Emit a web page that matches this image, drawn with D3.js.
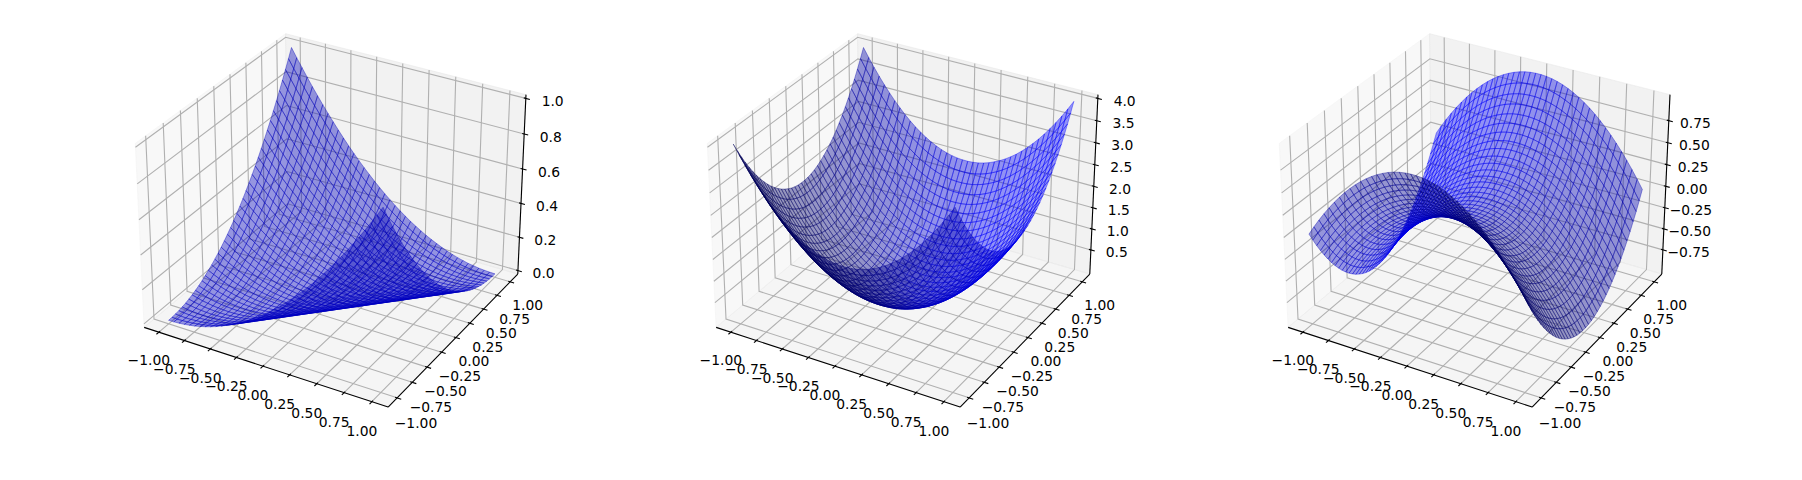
<!DOCTYPE html>
<html><head><meta charset="utf-8">
<style>html,body{margin:0;padding:0;background:#fff}svg{display:block}text{font-family:"DejaVu Sans";font-size:13.89px;fill:#000}</style>
<script src="https://cdn.jsdelivr.net/npm/d3@7"></script></head><body>
<script>
const gridValues=[-1,-0.9487,-0.8974,-0.8462,-0.7949,-0.7436,-0.6923,-0.641,-0.5897,-0.5385,-0.4872,-0.4359,-0.3846,-0.3333,-0.2821,-0.2308,-0.1795,-0.1282,-0.0769,-0.0256,0.0256,0.0769,0.1282,0.1795,0.2308,0.2821,0.3333,0.3846,0.4359,0.4872,0.5385,0.5897,0.641,0.6923,0.7436,0.7949,0.8462,0.8974,0.9487,1];
const surfaceA=[
[0,1,3,6,11,16,24,32,42,53,66,80,95,111,129,148,168,190,213,237,263,290,318,348,379,411,444,479,515,553,592,632,673,716,760,805,852,900,949,1000],
[1,0,1,3,6,11,16,24,32,42,53,66,80,95,111,129,148,168,190,213,237,263,290,318,348,379,411,444,479,515,553,592,632,673,716,760,805,852,900,949],
[3,1,0,1,3,6,11,16,24,32,42,53,66,80,95,111,129,148,168,190,213,237,263,290,318,348,379,411,444,479,515,553,592,632,673,716,760,805,852,900],
[6,3,1,0,1,3,6,11,16,24,32,42,53,66,80,95,111,129,148,168,190,213,237,263,290,318,348,379,411,444,479,515,553,592,632,673,716,760,805,852],
[11,6,3,1,0,1,3,6,11,16,24,32,42,53,66,80,95,111,129,148,168,190,213,237,263,290,318,348,379,411,444,479,515,553,592,632,673,716,760,805],
[16,11,6,3,1,0,1,3,6,11,16,24,32,42,53,66,80,95,111,129,148,168,190,213,237,263,290,318,348,379,411,444,479,515,553,592,632,673,716,760],
[24,16,11,6,3,1,0,1,3,6,11,16,24,32,42,53,66,80,95,111,129,148,168,190,213,237,263,290,318,348,379,411,444,479,515,553,592,632,673,716],
[32,24,16,11,6,3,1,0,1,3,6,11,16,24,32,42,53,66,80,95,111,129,148,168,190,213,237,263,290,318,348,379,411,444,479,515,553,592,632,673],
[42,32,24,16,11,6,3,1,0,1,3,6,11,16,24,32,42,53,66,80,95,111,129,148,168,190,213,237,263,290,318,348,379,411,444,479,515,553,592,632],
[53,42,32,24,16,11,6,3,1,0,1,3,6,11,16,24,32,42,53,66,80,95,111,129,148,168,190,213,237,263,290,318,348,379,411,444,479,515,553,592],
[66,53,42,32,24,16,11,6,3,1,0,1,3,6,11,16,24,32,42,53,66,80,95,111,129,148,168,190,213,237,263,290,318,348,379,411,444,479,515,553],
[80,66,53,42,32,24,16,11,6,3,1,0,1,3,6,11,16,24,32,42,53,66,80,95,111,129,148,168,190,213,237,263,290,318,348,379,411,444,479,515],
[95,80,66,53,42,32,24,16,11,6,3,1,0,1,3,6,11,16,24,32,42,53,66,80,95,111,129,148,168,190,213,237,263,290,318,348,379,411,444,479],
[111,95,80,66,53,42,32,24,16,11,6,3,1,0,1,3,6,11,16,24,32,42,53,66,80,95,111,129,148,168,190,213,237,263,290,318,348,379,411,444],
[129,111,95,80,66,53,42,32,24,16,11,6,3,1,0,1,3,6,11,16,24,32,42,53,66,80,95,111,129,148,168,190,213,237,263,290,318,348,379,411],
[148,129,111,95,80,66,53,42,32,24,16,11,6,3,1,0,1,3,6,11,16,24,32,42,53,66,80,95,111,129,148,168,190,213,237,263,290,318,348,379],
[168,148,129,111,95,80,66,53,42,32,24,16,11,6,3,1,0,1,3,6,11,16,24,32,42,53,66,80,95,111,129,148,168,190,213,237,263,290,318,348],
[190,168,148,129,111,95,80,66,53,42,32,24,16,11,6,3,1,0,1,3,6,11,16,24,32,42,53,66,80,95,111,129,148,168,190,213,237,263,290,318],
[213,190,168,148,129,111,95,80,66,53,42,32,24,16,11,6,3,1,0,1,3,6,11,16,24,32,42,53,66,80,95,111,129,148,168,190,213,237,263,290],
[237,213,190,168,148,129,111,95,80,66,53,42,32,24,16,11,6,3,1,0,1,3,6,11,16,24,32,42,53,66,80,95,111,129,148,168,190,213,237,263],
[263,237,213,190,168,148,129,111,95,80,66,53,42,32,24,16,11,6,3,1,0,1,3,6,11,16,24,32,42,53,66,80,95,111,129,148,168,190,213,237],
[290,263,237,213,190,168,148,129,111,95,80,66,53,42,32,24,16,11,6,3,1,0,1,3,6,11,16,24,32,42,53,66,80,95,111,129,148,168,190,213],
[318,290,263,237,213,190,168,148,129,111,95,80,66,53,42,32,24,16,11,6,3,1,0,1,3,6,11,16,24,32,42,53,66,80,95,111,129,148,168,190],
[348,318,290,263,237,213,190,168,148,129,111,95,80,66,53,42,32,24,16,11,6,3,1,0,1,3,6,11,16,24,32,42,53,66,80,95,111,129,148,168],
[379,348,318,290,263,237,213,190,168,148,129,111,95,80,66,53,42,32,24,16,11,6,3,1,0,1,3,6,11,16,24,32,42,53,66,80,95,111,129,148],
[411,379,348,318,290,263,237,213,190,168,148,129,111,95,80,66,53,42,32,24,16,11,6,3,1,0,1,3,6,11,16,24,32,42,53,66,80,95,111,129],
[444,411,379,348,318,290,263,237,213,190,168,148,129,111,95,80,66,53,42,32,24,16,11,6,3,1,0,1,3,6,11,16,24,32,42,53,66,80,95,111],
[479,444,411,379,348,318,290,263,237,213,190,168,148,129,111,95,80,66,53,42,32,24,16,11,6,3,1,0,1,3,6,11,16,24,32,42,53,66,80,95],
[515,479,444,411,379,348,318,290,263,237,213,190,168,148,129,111,95,80,66,53,42,32,24,16,11,6,3,1,0,1,3,6,11,16,24,32,42,53,66,80],
[553,515,479,444,411,379,348,318,290,263,237,213,190,168,148,129,111,95,80,66,53,42,32,24,16,11,6,3,1,0,1,3,6,11,16,24,32,42,53,66],
[592,553,515,479,444,411,379,348,318,290,263,237,213,190,168,148,129,111,95,80,66,53,42,32,24,16,11,6,3,1,0,1,3,6,11,16,24,32,42,53],
[632,592,553,515,479,444,411,379,348,318,290,263,237,213,190,168,148,129,111,95,80,66,53,42,32,24,16,11,6,3,1,0,1,3,6,11,16,24,32,42],
[673,632,592,553,515,479,444,411,379,348,318,290,263,237,213,190,168,148,129,111,95,80,66,53,42,32,24,16,11,6,3,1,0,1,3,6,11,16,24,32],
[716,673,632,592,553,515,479,444,411,379,348,318,290,263,237,213,190,168,148,129,111,95,80,66,53,42,32,24,16,11,6,3,1,0,1,3,6,11,16,24],
[760,716,673,632,592,553,515,479,444,411,379,348,318,290,263,237,213,190,168,148,129,111,95,80,66,53,42,32,24,16,11,6,3,1,0,1,3,6,11,16],
[805,760,716,673,632,592,553,515,479,444,411,379,348,318,290,263,237,213,190,168,148,129,111,95,80,66,53,42,32,24,16,11,6,3,1,0,1,3,6,11],
[852,805,760,716,673,632,592,553,515,479,444,411,379,348,318,290,263,237,213,190,168,148,129,111,95,80,66,53,42,32,24,16,11,6,3,1,0,1,3,6],
[900,852,805,760,716,673,632,592,553,515,479,444,411,379,348,318,290,263,237,213,190,168,148,129,111,95,80,66,53,42,32,24,16,11,6,3,1,0,1,3],
[949,900,852,805,760,716,673,632,592,553,515,479,444,411,379,348,318,290,263,237,213,190,168,148,129,111,95,80,66,53,42,32,24,16,11,6,3,1,0,1],
[1000,949,900,852,805,760,716,673,632,592,553,515,479,444,411,379,348,318,290,263,237,213,190,168,148,129,111,95,80,66,53,42,32,24,16,11,6,3,1,0]];
const surfaceB=[
[4000,3800,3610,3432,3264,3106,2958,2822,2696,2580,2474,2380,2296,2222,2160,2106,2064,2032,2012,2002,2002,2012,2032,2064,2106,2160,2222,2296,2380,2474,2580,2696,2822,2958,3106,3264,3432,3610,3800,4000],
[3800,3600,3410,3232,3064,2906,2758,2622,2496,2380,2274,2180,2096,2022,1960,1906,1864,1832,1812,1802,1802,1812,1832,1864,1906,1960,2022,2096,2180,2274,2380,2496,2622,2758,2906,3064,3232,3410,3600,3800],
[3610,3410,3220,3042,2874,2716,2568,2432,2306,2190,2084,1990,1906,1832,1770,1716,1674,1642,1622,1612,1612,1622,1642,1674,1716,1770,1832,1906,1990,2084,2190,2306,2432,2568,2716,2874,3042,3220,3410,3610],
[3432,3232,3042,2864,2696,2538,2390,2254,2128,2012,1906,1812,1728,1654,1592,1538,1496,1464,1444,1434,1434,1444,1464,1496,1538,1592,1654,1728,1812,1906,2012,2128,2254,2390,2538,2696,2864,3042,3232,3432],
[3264,3064,2874,2696,2528,2370,2222,2086,1960,1844,1738,1644,1560,1486,1424,1370,1328,1296,1276,1266,1266,1276,1296,1328,1370,1424,1486,1560,1644,1738,1844,1960,2086,2222,2370,2528,2696,2874,3064,3264],
[3106,2906,2716,2538,2370,2212,2064,1928,1802,1686,1580,1486,1402,1328,1266,1212,1170,1138,1118,1108,1108,1118,1138,1170,1212,1266,1328,1402,1486,1580,1686,1802,1928,2064,2212,2370,2538,2716,2906,3106],
[2958,2758,2568,2390,2222,2064,1916,1780,1654,1538,1432,1338,1254,1180,1118,1064,1022,990,970,960,960,970,990,1022,1064,1118,1180,1254,1338,1432,1538,1654,1780,1916,2064,2222,2390,2568,2758,2958],
[2822,2622,2432,2254,2086,1928,1780,1644,1518,1402,1296,1202,1118,1044,982,928,886,854,834,824,824,834,854,886,928,982,1044,1118,1202,1296,1402,1518,1644,1780,1928,2086,2254,2432,2622,2822],
[2696,2496,2306,2128,1960,1802,1654,1518,1392,1276,1170,1076,992,918,856,802,760,728,708,698,698,708,728,760,802,856,918,992,1076,1170,1276,1392,1518,1654,1802,1960,2128,2306,2496,2696],
[2580,2380,2190,2012,1844,1686,1538,1402,1276,1160,1054,960,876,802,740,686,644,612,592,582,582,592,612,644,686,740,802,876,960,1054,1160,1276,1402,1538,1686,1844,2012,2190,2380,2580],
[2474,2274,2084,1906,1738,1580,1432,1296,1170,1054,948,854,770,696,634,580,538,506,486,476,476,486,506,538,580,634,696,770,854,948,1054,1170,1296,1432,1580,1738,1906,2084,2274,2474],
[2380,2180,1990,1812,1644,1486,1338,1202,1076,960,854,760,676,602,540,486,444,412,392,382,382,392,412,444,486,540,602,676,760,854,960,1076,1202,1338,1486,1644,1812,1990,2180,2380],
[2296,2096,1906,1728,1560,1402,1254,1118,992,876,770,676,592,518,456,402,360,328,308,298,298,308,328,360,402,456,518,592,676,770,876,992,1118,1254,1402,1560,1728,1906,2096,2296],
[2222,2022,1832,1654,1486,1328,1180,1044,918,802,696,602,518,444,382,328,286,254,234,224,224,234,254,286,328,382,444,518,602,696,802,918,1044,1180,1328,1486,1654,1832,2022,2222],
[2160,1960,1770,1592,1424,1266,1118,982,856,740,634,540,456,382,320,266,224,192,172,162,162,172,192,224,266,320,382,456,540,634,740,856,982,1118,1266,1424,1592,1770,1960,2160],
[2106,1906,1716,1538,1370,1212,1064,928,802,686,580,486,402,328,266,212,170,138,118,108,108,118,138,170,212,266,328,402,486,580,686,802,928,1064,1212,1370,1538,1716,1906,2106],
[2064,1864,1674,1496,1328,1170,1022,886,760,644,538,444,360,286,224,170,128,96,76,66,66,76,96,128,170,224,286,360,444,538,644,760,886,1022,1170,1328,1496,1674,1864,2064],
[2032,1832,1642,1464,1296,1138,990,854,728,612,506,412,328,254,192,138,96,64,44,34,34,44,64,96,138,192,254,328,412,506,612,728,854,990,1138,1296,1464,1642,1832,2032],
[2012,1812,1622,1444,1276,1118,970,834,708,592,486,392,308,234,172,118,76,44,24,14,14,24,44,76,118,172,234,308,392,486,592,708,834,970,1118,1276,1444,1622,1812,2012],
[2002,1802,1612,1434,1266,1108,960,824,698,582,476,382,298,224,162,108,66,34,14,4,4,14,34,66,108,162,224,298,382,476,582,698,824,960,1108,1266,1434,1612,1802,2002],
[2002,1802,1612,1434,1266,1108,960,824,698,582,476,382,298,224,162,108,66,34,14,4,4,14,34,66,108,162,224,298,382,476,582,698,824,960,1108,1266,1434,1612,1802,2002],
[2012,1812,1622,1444,1276,1118,970,834,708,592,486,392,308,234,172,118,76,44,24,14,14,24,44,76,118,172,234,308,392,486,592,708,834,970,1118,1276,1444,1622,1812,2012],
[2032,1832,1642,1464,1296,1138,990,854,728,612,506,412,328,254,192,138,96,64,44,34,34,44,64,96,138,192,254,328,412,506,612,728,854,990,1138,1296,1464,1642,1832,2032],
[2064,1864,1674,1496,1328,1170,1022,886,760,644,538,444,360,286,224,170,128,96,76,66,66,76,96,128,170,224,286,360,444,538,644,760,886,1022,1170,1328,1496,1674,1864,2064],
[2106,1906,1716,1538,1370,1212,1064,928,802,686,580,486,402,328,266,212,170,138,118,108,108,118,138,170,212,266,328,402,486,580,686,802,928,1064,1212,1370,1538,1716,1906,2106],
[2160,1960,1770,1592,1424,1266,1118,982,856,740,634,540,456,382,320,266,224,192,172,162,162,172,192,224,266,320,382,456,540,634,740,856,982,1118,1266,1424,1592,1770,1960,2160],
[2222,2022,1832,1654,1486,1328,1180,1044,918,802,696,602,518,444,382,328,286,254,234,224,224,234,254,286,328,382,444,518,602,696,802,918,1044,1180,1328,1486,1654,1832,2022,2222],
[2296,2096,1906,1728,1560,1402,1254,1118,992,876,770,676,592,518,456,402,360,328,308,298,298,308,328,360,402,456,518,592,676,770,876,992,1118,1254,1402,1560,1728,1906,2096,2296],
[2380,2180,1990,1812,1644,1486,1338,1202,1076,960,854,760,676,602,540,486,444,412,392,382,382,392,412,444,486,540,602,676,760,854,960,1076,1202,1338,1486,1644,1812,1990,2180,2380],
[2474,2274,2084,1906,1738,1580,1432,1296,1170,1054,948,854,770,696,634,580,538,506,486,476,476,486,506,538,580,634,696,770,854,948,1054,1170,1296,1432,1580,1738,1906,2084,2274,2474],
[2580,2380,2190,2012,1844,1686,1538,1402,1276,1160,1054,960,876,802,740,686,644,612,592,582,582,592,612,644,686,740,802,876,960,1054,1160,1276,1402,1538,1686,1844,2012,2190,2380,2580],
[2696,2496,2306,2128,1960,1802,1654,1518,1392,1276,1170,1076,992,918,856,802,760,728,708,698,698,708,728,760,802,856,918,992,1076,1170,1276,1392,1518,1654,1802,1960,2128,2306,2496,2696],
[2822,2622,2432,2254,2086,1928,1780,1644,1518,1402,1296,1202,1118,1044,982,928,886,854,834,824,824,834,854,886,928,982,1044,1118,1202,1296,1402,1518,1644,1780,1928,2086,2254,2432,2622,2822],
[2958,2758,2568,2390,2222,2064,1916,1780,1654,1538,1432,1338,1254,1180,1118,1064,1022,990,970,960,960,970,990,1022,1064,1118,1180,1254,1338,1432,1538,1654,1780,1916,2064,2222,2390,2568,2758,2958],
[3106,2906,2716,2538,2370,2212,2064,1928,1802,1686,1580,1486,1402,1328,1266,1212,1170,1138,1118,1108,1108,1118,1138,1170,1212,1266,1328,1402,1486,1580,1686,1802,1928,2064,2212,2370,2538,2716,2906,3106],
[3264,3064,2874,2696,2528,2370,2222,2086,1960,1844,1738,1644,1560,1486,1424,1370,1328,1296,1276,1266,1266,1276,1296,1328,1370,1424,1486,1560,1644,1738,1844,1960,2086,2222,2370,2528,2696,2874,3064,3264],
[3432,3232,3042,2864,2696,2538,2390,2254,2128,2012,1906,1812,1728,1654,1592,1538,1496,1464,1444,1434,1434,1444,1464,1496,1538,1592,1654,1728,1812,1906,2012,2128,2254,2390,2538,2696,2864,3042,3232,3432],
[3610,3410,3220,3042,2874,2716,2568,2432,2306,2190,2084,1990,1906,1832,1770,1716,1674,1642,1622,1612,1612,1622,1642,1674,1716,1770,1832,1906,1990,2084,2190,2306,2432,2568,2716,2874,3042,3220,3410,3610],
[3800,3600,3410,3232,3064,2906,2758,2622,2496,2380,2274,2180,2096,2022,1960,1906,1864,1832,1812,1802,1802,1812,1832,1864,1906,1960,2022,2096,2180,2274,2380,2496,2622,2758,2906,3064,3232,3410,3600,3800],
[4000,3800,3610,3432,3264,3106,2958,2822,2696,2580,2474,2380,2296,2222,2160,2106,2064,2032,2012,2002,2002,2012,2032,2064,2106,2160,2222,2296,2380,2474,2580,2696,2822,2958,3106,3264,3432,3610,3800,4000]];
const surfaceC=[
[0,100,195,284,368,447,521,589,652,710,763,810,852,889,920,947,968,984,994,999,999,994,984,968,947,920,889,852,810,763,710,652,589,521,447,368,284,195,100,0],
[-100,0,95,184,268,347,421,489,552,610,663,710,752,789,820,847,868,884,894,899,899,894,884,868,847,820,789,752,710,663,610,552,489,421,347,268,184,95,0,-100],
[-195,-95,0,89,173,252,326,394,457,515,568,615,657,694,725,752,773,789,799,804,804,799,789,773,752,725,694,657,615,568,515,457,394,326,252,173,89,0,-95,-195],
[-284,-184,-89,0,84,163,237,305,368,426,479,526,568,605,636,663,684,700,710,715,715,710,700,684,663,636,605,568,526,479,426,368,305,237,163,84,0,-89,-184,-284],
[-368,-268,-173,-84,0,79,153,221,284,342,395,442,484,521,552,579,600,616,626,631,631,626,616,600,579,552,521,484,442,395,342,284,221,153,79,0,-84,-173,-268,-368],
[-447,-347,-252,-163,-79,0,74,142,205,263,316,363,405,442,473,500,521,537,547,552,552,547,537,521,500,473,442,405,363,316,263,205,142,74,0,-79,-163,-252,-347,-447],
[-521,-421,-326,-237,-153,-74,0,68,131,189,242,289,331,368,399,426,447,463,473,478,478,473,463,447,426,399,368,331,289,242,189,131,68,0,-74,-153,-237,-326,-421,-521],
[-589,-489,-394,-305,-221,-142,-68,0,63,121,174,221,263,300,331,358,379,395,405,410,410,405,395,379,358,331,300,263,221,174,121,63,0,-68,-142,-221,-305,-394,-489,-589],
[-652,-552,-457,-368,-284,-205,-131,-63,0,58,111,158,200,237,268,295,316,332,342,347,347,342,332,316,295,268,237,200,158,111,58,0,-63,-131,-205,-284,-368,-457,-552,-652],
[-710,-610,-515,-426,-342,-263,-189,-121,-58,0,53,100,142,179,210,237,258,274,284,289,289,284,274,258,237,210,179,142,100,53,0,-58,-121,-189,-263,-342,-426,-515,-610,-710],
[-763,-663,-568,-479,-395,-316,-242,-174,-111,-53,0,47,89,126,157,184,205,221,231,236,236,231,221,205,184,157,126,89,47,0,-53,-111,-174,-242,-316,-395,-479,-568,-663,-763],
[-810,-710,-615,-526,-442,-363,-289,-221,-158,-100,-47,0,42,79,110,137,158,174,184,189,189,184,174,158,137,110,79,42,0,-47,-100,-158,-221,-289,-363,-442,-526,-615,-710,-810],
[-852,-752,-657,-568,-484,-405,-331,-263,-200,-142,-89,-42,0,37,68,95,116,132,142,147,147,142,132,116,95,68,37,0,-42,-89,-142,-200,-263,-331,-405,-484,-568,-657,-752,-852],
[-889,-789,-694,-605,-521,-442,-368,-300,-237,-179,-126,-79,-37,0,31,58,79,95,105,110,110,105,95,79,58,31,0,-37,-79,-126,-179,-237,-300,-368,-442,-521,-605,-694,-789,-889],
[-920,-820,-725,-636,-552,-473,-399,-331,-268,-210,-157,-110,-68,-31,0,27,48,64,74,79,79,74,64,48,27,0,-31,-68,-110,-157,-210,-268,-331,-399,-473,-552,-636,-725,-820,-920],
[-947,-847,-752,-663,-579,-500,-426,-358,-295,-237,-184,-137,-95,-58,-27,0,21,37,47,52,52,47,37,21,0,-27,-58,-95,-137,-184,-237,-295,-358,-426,-500,-579,-663,-752,-847,-947],
[-968,-868,-773,-684,-600,-521,-447,-379,-316,-258,-205,-158,-116,-79,-48,-21,0,16,26,31,31,26,16,0,-21,-48,-79,-116,-158,-205,-258,-316,-379,-447,-521,-600,-684,-773,-868,-968],
[-984,-884,-789,-700,-616,-537,-463,-395,-332,-274,-221,-174,-132,-95,-64,-37,-16,0,10,15,15,10,0,-16,-37,-64,-95,-132,-174,-221,-274,-332,-395,-463,-537,-616,-700,-789,-884,-984],
[-994,-894,-799,-710,-626,-547,-473,-405,-342,-284,-231,-184,-142,-105,-74,-47,-26,-10,0,5,5,0,-10,-26,-47,-74,-105,-142,-184,-231,-284,-342,-405,-473,-547,-626,-710,-799,-894,-994],
[-999,-899,-804,-715,-631,-552,-478,-410,-347,-289,-236,-189,-147,-110,-79,-52,-31,-15,-5,0,0,-5,-15,-31,-52,-79,-110,-147,-189,-236,-289,-347,-410,-478,-552,-631,-715,-804,-899,-999],
[-999,-899,-804,-715,-631,-552,-478,-410,-347,-289,-236,-189,-147,-110,-79,-52,-31,-15,-5,0,0,-5,-15,-31,-52,-79,-110,-147,-189,-236,-289,-347,-410,-478,-552,-631,-715,-804,-899,-999],
[-994,-894,-799,-710,-626,-547,-473,-405,-342,-284,-231,-184,-142,-105,-74,-47,-26,-10,0,5,5,0,-10,-26,-47,-74,-105,-142,-184,-231,-284,-342,-405,-473,-547,-626,-710,-799,-894,-994],
[-984,-884,-789,-700,-616,-537,-463,-395,-332,-274,-221,-174,-132,-95,-64,-37,-16,0,10,15,15,10,0,-16,-37,-64,-95,-132,-174,-221,-274,-332,-395,-463,-537,-616,-700,-789,-884,-984],
[-968,-868,-773,-684,-600,-521,-447,-379,-316,-258,-205,-158,-116,-79,-48,-21,0,16,26,31,31,26,16,0,-21,-48,-79,-116,-158,-205,-258,-316,-379,-447,-521,-600,-684,-773,-868,-968],
[-947,-847,-752,-663,-579,-500,-426,-358,-295,-237,-184,-137,-95,-58,-27,0,21,37,47,52,52,47,37,21,0,-27,-58,-95,-137,-184,-237,-295,-358,-426,-500,-579,-663,-752,-847,-947],
[-920,-820,-725,-636,-552,-473,-399,-331,-268,-210,-157,-110,-68,-31,0,27,48,64,74,79,79,74,64,48,27,0,-31,-68,-110,-157,-210,-268,-331,-399,-473,-552,-636,-725,-820,-920],
[-889,-789,-694,-605,-521,-442,-368,-300,-237,-179,-126,-79,-37,0,31,58,79,95,105,110,110,105,95,79,58,31,0,-37,-79,-126,-179,-237,-300,-368,-442,-521,-605,-694,-789,-889],
[-852,-752,-657,-568,-484,-405,-331,-263,-200,-142,-89,-42,0,37,68,95,116,132,142,147,147,142,132,116,95,68,37,0,-42,-89,-142,-200,-263,-331,-405,-484,-568,-657,-752,-852],
[-810,-710,-615,-526,-442,-363,-289,-221,-158,-100,-47,0,42,79,110,137,158,174,184,189,189,184,174,158,137,110,79,42,0,-47,-100,-158,-221,-289,-363,-442,-526,-615,-710,-810],
[-763,-663,-568,-479,-395,-316,-242,-174,-111,-53,0,47,89,126,157,184,205,221,231,236,236,231,221,205,184,157,126,89,47,0,-53,-111,-174,-242,-316,-395,-479,-568,-663,-763],
[-710,-610,-515,-426,-342,-263,-189,-121,-58,0,53,100,142,179,210,237,258,274,284,289,289,284,274,258,237,210,179,142,100,53,0,-58,-121,-189,-263,-342,-426,-515,-610,-710],
[-652,-552,-457,-368,-284,-205,-131,-63,0,58,111,158,200,237,268,295,316,332,342,347,347,342,332,316,295,268,237,200,158,111,58,0,-63,-131,-205,-284,-368,-457,-552,-652],
[-589,-489,-394,-305,-221,-142,-68,0,63,121,174,221,263,300,331,358,379,395,405,410,410,405,395,379,358,331,300,263,221,174,121,63,0,-68,-142,-221,-305,-394,-489,-589],
[-521,-421,-326,-237,-153,-74,0,68,131,189,242,289,331,368,399,426,447,463,473,478,478,473,463,447,426,399,368,331,289,242,189,131,68,0,-74,-153,-237,-326,-421,-521],
[-447,-347,-252,-163,-79,0,74,142,205,263,316,363,405,442,473,500,521,537,547,552,552,547,537,521,500,473,442,405,363,316,263,205,142,74,0,-79,-163,-252,-347,-447],
[-368,-268,-173,-84,0,79,153,221,284,342,395,442,484,521,552,579,600,616,626,631,631,626,616,600,579,552,521,484,442,395,342,284,221,153,79,0,-84,-173,-268,-368],
[-284,-184,-89,0,84,163,237,305,368,426,479,526,568,605,636,663,684,700,710,715,715,710,700,684,663,636,605,568,526,479,426,368,305,237,163,84,0,-89,-184,-284],
[-195,-95,0,89,173,252,326,394,457,515,568,615,657,694,725,752,773,789,799,804,804,799,789,773,752,725,694,657,615,568,515,457,394,326,252,173,89,0,-95,-195],
[-100,0,95,184,268,347,421,489,552,610,663,710,752,789,820,847,868,884,894,899,899,894,884,868,847,820,789,752,710,663,610,552,489,421,347,268,184,95,0,-100],
[0,100,195,284,368,447,521,589,652,710,763,810,852,889,920,947,968,984,994,999,999,994,984,968,947,920,889,852,810,763,710,652,589,521,447,368,284,195,100,0]];
const xyTicks=[-1,-0.75,-0.5,-0.25,0,0.25,0.5,0.75,1];
const xyLabels=["−1.00","−0.75","−0.50","−0.25","0.00","0.25","0.50","0.75","1.00"];
const zTicksA=[0,0.2,0.4,0.6,0.8,1];
const zLabelsA=["0.0","0.2","0.4","0.6","0.8","1.0"];
const zTicksB=[0.5,1,1.5,2,2.5,3,3.5,4];
const zLabelsB=["0.5","1.0","1.5","2.0","2.5","3.0","3.5","4.0"];
const zTicksC=[-0.75,-0.5,-0.25,0,0.25,0.5,0.75];
const zLabelsC=["−0.75","−0.50","−0.25","0.00","0.25","0.50","0.75"];
const zLimitsA=[0,1],zLimitsB=[0.00263,4],zLimitsC=[-0.99934,0.99934];
const dataLimits=[-1.1,1.1];
const panelCentersX=[334.4,906.4,1478.4];
const centerY=211.4,scalePx=2348;
const W=1802,H=480;
const svg=d3.select("body").append("svg").attr("width",W).attr("height",H);
const dist=10,elev=30*Math.PI/180,azim=-60*Math.PI/180;
const n=[Math.cos(elev)*Math.cos(azim),Math.cos(elev)*Math.sin(azim),Math.sin(elev)];
const uLen=Math.hypot(n[1],n[0]);
const u=[-n[1]/uLen,n[0]/uLen,0];
const v=[n[1]*u[2]-n[2]*u[1],n[2]*u[0]-n[0]*u[2],n[0]*u[1]-n[1]*u[0]];
const dot=(a,b)=>a[0]*b[0]+a[1]*b[1]+a[2]*b[2];
const aspect=[1.1429,1.1429,0.8571];
const light=[-0.6667,-0.6667,0.3333];
function panel(cx,Z,zTicks,zLabels,zLim){
  const g=svg.append("g");
  const wx=d3.scaleLinear().domain(dataLimits).range([0,aspect[0]]);
  const wy=d3.scaleLinear().domain(dataLimits).range([0,aspect[1]]);
  const wz=d3.scaleLinear().domain(zLim).range([0,aspect[2]]);
  const R=aspect.map(a=>a/2);
  const sx=d3.scaleLinear().domain([-1,1]).range([cx-scalePx,cx+scalePx]);
  const sy=d3.scaleLinear().domain([-1,1]).range([centerY+scalePx,centerY-scalePx]);
  function P(x,y,z){
    const p=[wx(x)-R[0],wy(y)-R[1],wz(z)-R[2]];
    const d=dist-dot(p,n);
    return [sx(dot(p,u)/d),sy(dot(p,v)/d),d];
  }
  const dx=(dataLimits[1]-dataLimits[0])/12, dz=(zLim[1]-zLim[0])/12;
  const x0=dataLimits[0]-dx/4,x1=dataLimits[1]+dx/4,z0=zLim[0]-dz/4,z1=zLim[1]+dz/4;
  const line=d3.line();
  const path=(pts,close)=>line(pts.map(p=>P(...p).slice(0,2)))+(close?"Z":"");
  const panes=[
    {pts:[[x0,x0,z0],[x0,x1,z0],[x0,x1,z1],[x0,x0,z1]],c:"rgb(242,242,242)",o:0.5},
    {pts:[[x0,x1,z0],[x1,x1,z0],[x1,x1,z1],[x0,x1,z1]],c:"rgb(230,230,230)",o:0.5},
    {pts:[[x0,x0,z0],[x1,x0,z0],[x1,x1,z0],[x0,x1,z0]],c:"rgb(236,236,236)",o:0.5}];
  g.selectAll(".pane").data(panes).join("path").attr("class","pane").attr("d",d=>path(d.pts,true))
    .attr("fill",d=>d.c).attr("fill-opacity",d=>d.o).attr("stroke",d=>d.c).attr("stroke-opacity",d=>d.o);
  const gridAttrs=s=>s.attr("fill","none").attr("stroke","#b0b0b0").attr("stroke-width",1.11);
  g.selectAll(".gx").data(xyTicks).join("path").attr("class","gx").call(gridAttrs).attr("d",t=>path([[t,x0,z0],[t,x1,z0],[t,x1,z1]]));
  g.selectAll(".gy").data(xyTicks).join("path").attr("class","gy").call(gridAttrs).attr("d",t=>path([[x1,t,z0],[x0,t,z0],[x0,t,z1]]));
  g.selectAll(".gz").data(zTicks).join("path").attr("class","gz").call(gridAttrs).attr("d",t=>path([[x0,x0,t],[x0,x1,t],[x1,x1,t]]));
  const axisAttrs=s=>s.attr("fill","none").attr("stroke","#000").attr("stroke-width",1.11);
  g.append("path").call(axisAttrs).attr("d",path([[x0,x0,z0],[x1,x0,z0]]));
  g.append("path").call(axisAttrs).attr("d",path([[x1,x0,z0],[x1,x1,z0]]));
  g.append("path").call(axisAttrs).attr("d",path([[x1,x1,z0],[x1,x1,z1]]));
  g.selectAll(".tx").data(xyTicks).join("path").attr("class","tx").call(axisAttrs).attr("d",t=>path([[t,x0+0.1*dx,z0],[t,x0-0.2*dx,z0]]));
  g.selectAll(".ty").data(xyTicks).join("path").attr("class","ty").call(axisAttrs).attr("d",t=>path([[x1-0.1*dx,t,z0],[x1+0.2*dx,t,z0]]));
  g.selectAll(".tz").data(zTicks).join("path").attr("class","tz").call(axisAttrs).attr("d",t=>path([[x1-0.1*dx,x1,t],[x1+0.2*dx,x1,t]]));
  const k=0.98;
  const label=(sel,pos,labels,nx,ny)=>sel.attr("text-anchor","middle").attr("dy","0.36em")
    .attr("x",(t)=>P(...pos(t))[0]+nx).attr("y",(t)=>P(...pos(t))[1]+ny).text((t,i)=>labels[i]);
  g.selectAll(".lx").data(xyTicks).join("text").attr("class","lx").call(label,t=>[t,x0-k*dx,z0-k*dz],xyLabels,1.5,4);
  g.selectAll(".ly").data(xyTicks).join("text").attr("class","ly").call(label,t=>[x1+k*dx,t,z0-k*dz],xyLabels,-1,4);
  g.selectAll(".lz").data(zTicks).join("text").attr("class","lz").call(label,t=>[x1+k*dx,x1+k*dx,t],zLabels,-2.5,6.4);
  const polys=[];
  for(let i=0;i<gridValues.length-1;i++)for(let j=0;j<gridValues.length-1;j++){
    const corner=(a,b)=>[gridValues[b],gridValues[a],Z[a][b]/1000];
    const q=[corner(i,j),corner(i,j+1),corner(i+1,j+1),corner(i+1,j)];
    const a=[q[0][0]-q[1][0],q[0][1]-q[1][1],q[0][2]-q[1][2]],b=[q[1][0]-q[2][0],q[1][1]-q[2][1],q[1][2]-q[2][2]];
    const nn=[a[1]*b[2]-a[2]*b[1],a[2]*b[0]-a[0]*b[2],a[0]*b[1]-a[1]*b[0]];
    const len=Math.hypot(...nn);
    const s=0.3+0.7*(dot(nn,light)/len+1)/2;
    polys.push({q,s,depth:d3.mean(q,p=>P(...p)[2])});
  }
  polys.sort((a,b)=>b.depth-a.depth);
  g.selectAll(".cell").data(polys).join("path").attr("class","cell").attr("d",d=>path(d.q,true))
    .attr("fill",d=>`rgb(0,0,${Math.round(255*d.s)})`).attr("fill-opacity",0.4)
    .attr("stroke",d=>`rgb(0,0,${Math.round(255*d.s)})`).attr("stroke-opacity",0.85).attr("stroke-width",0.45);
}
panel(panelCentersX[0],surfaceA,zTicksA,zLabelsA,zLimitsA);
panel(panelCentersX[1],surfaceB,zTicksB,zLabelsB,zLimitsB);
panel(panelCentersX[2],surfaceC,zTicksC,zLabelsC,zLimitsC);
</script></body></html>
